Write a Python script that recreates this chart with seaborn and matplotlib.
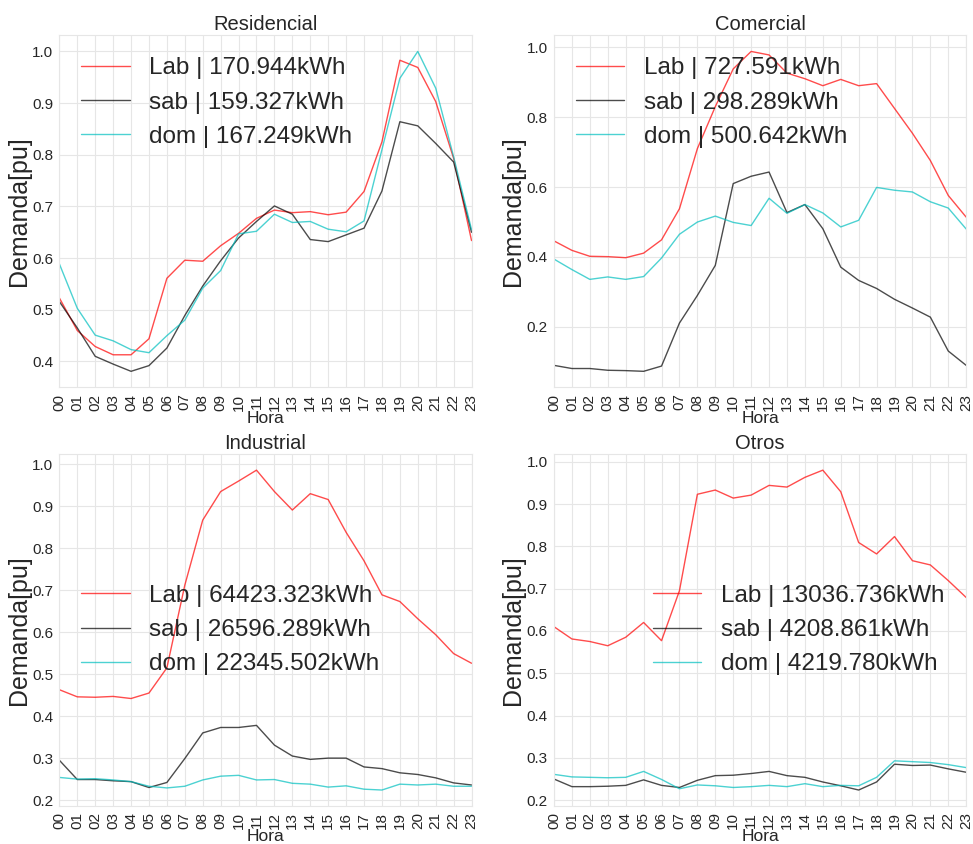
import numpy as np
import pandas as pd
import matplotlib
matplotlib.use("Agg")
import matplotlib.pyplot as plt
import seaborn as sns

horas = [f"{h:02d}" for h in range(24)]
dias = ["Lab", "sab", "dom"]
categorias = ["Residencial", "Comercial", "Industrial", "Otros"]

res_lab = [0.523, 0.460, 0.429, 0.413, 0.413, 0.444, 0.561, 0.596, 0.594, 0.624, 0.648, 0.677,
           0.693, 0.688, 0.690, 0.684, 0.689, 0.729, 0.825, 0.983, 0.969, 0.903, 0.793, 0.634]
res_sab = [0.516, 0.465, 0.410, 0.395, 0.381, 0.392, 0.426, 0.489, 0.546, 0.595, 0.639, 0.671,
           0.701, 0.685, 0.636, 0.632, 0.645, 0.658, 0.730, 0.864, 0.856, 0.822, 0.786, 0.650]
res_dom = [0.589, 0.503, 0.451, 0.440, 0.423, 0.417, 0.450, 0.480, 0.542, 0.576, 0.647, 0.652,
           0.685, 0.669, 0.671, 0.656, 0.651, 0.672, 0.810, 0.948, 1.000, 0.929, 0.796, 0.655]

com_lab = [0.446, 0.419, 0.402, 0.401, 0.398, 0.411, 0.449, 0.538, 0.710, 0.830, 0.938, 0.988,
           0.978, 0.926, 0.910, 0.890, 0.908, 0.890, 0.896, 0.825, 0.754, 0.676, 0.576, 0.514]
com_sab = [0.090, 0.081, 0.081, 0.076, 0.075, 0.073, 0.088, 0.211, 0.290, 0.376, 0.610, 0.631,
           0.643, 0.527, 0.550, 0.481, 0.371, 0.333, 0.310, 0.279, 0.254, 0.228, 0.131, 0.090]
com_dom = [0.394, 0.364, 0.336, 0.343, 0.336, 0.344, 0.397, 0.465, 0.500, 0.517, 0.499, 0.490,
           0.568, 0.525, 0.550, 0.526, 0.486, 0.505, 0.599, 0.591, 0.586, 0.558, 0.540, 0.480]

ind_lab = [0.463, 0.446, 0.445, 0.447, 0.442, 0.455, 0.515, 0.712, 0.867, 0.935, 0.960, 0.986,
           0.935, 0.891, 0.930, 0.916, 0.838, 0.770, 0.689, 0.673, 0.632, 0.594, 0.549, 0.526]
ind_sab = [0.295, 0.249, 0.249, 0.246, 0.244, 0.230, 0.242, 0.299, 0.360, 0.373, 0.373, 0.378,
           0.331, 0.305, 0.297, 0.300, 0.300, 0.279, 0.275, 0.265, 0.261, 0.253, 0.241, 0.236]
ind_dom = [0.254, 0.250, 0.251, 0.248, 0.244, 0.233, 0.229, 0.233, 0.248, 0.257, 0.259, 0.248,
           0.249, 0.240, 0.238, 0.231, 0.234, 0.226, 0.224, 0.238, 0.236, 0.238, 0.233, 0.233]

otr_lab = [0.610, 0.581, 0.575, 0.565, 0.585, 0.620, 0.577, 0.695, 0.923, 0.933, 0.914, 0.921,
           0.944, 0.940, 0.963, 0.980, 0.929, 0.809, 0.782, 0.823, 0.766, 0.756, 0.719, 0.679]
otr_sab = [0.250, 0.232, 0.232, 0.233, 0.235, 0.248, 0.235, 0.230, 0.247, 0.258, 0.259, 0.263,
           0.268, 0.258, 0.254, 0.243, 0.234, 0.224, 0.243, 0.285, 0.282, 0.283, 0.274, 0.266]
otr_dom = [0.261, 0.255, 0.254, 0.253, 0.254, 0.268, 0.249, 0.227, 0.236, 0.234, 0.230, 0.232,
           0.235, 0.232, 0.239, 0.232, 0.235, 0.234, 0.254, 0.293, 0.291, 0.289, 0.284, 0.277]

energia = {
    "Residencial": ["170.944", "159.327", "167.249"],
    "Comercial": ["727.591", "298.289", "500.642"],
    "Industrial": ["64423.323", "26596.289", "22345.502"],
    "Otros": ["13036.736", "4208.861", "4219.780"],
}
series = {
    "Residencial": [res_lab, res_sab, res_dom],
    "Comercial": [com_lab, com_sab, com_dom],
    "Industrial": [ind_lab, ind_sab, ind_dom],
    "Otros": [otr_lab, otr_sab, otr_dom],
}
legend_loc = {"Residencial": "upper left", "Comercial": "upper left",
              "Industrial": "center left", "Otros": "center right"}

colores = ["red", "black", "c"]

sns.set_style("whitegrid", {"grid.color": ".9", "axes.edgecolor": ".9"})
plt.rcParams["font.family"] = ["Liberation Sans", "DejaVu Sans"]
plt.rcParams["text.color"] = ".15"
plt.rcParams["axes.labelcolor"] = ".15"

fig, axes = plt.subplots(2, 2, figsize=(9.73, 8.44), dpi=100)
fig.subplots_adjust(left=0.061, right=0.993, top=0.958, bottom=0.045, wspace=0.2, hspace=0.19)

x = np.arange(24)
for ax, cat in zip(axes.flat, categorias):
    for vals, dia, col, kwh in zip(series[cat], dias, colores, energia[cat]):
        sns.lineplot(x=x, y=vals, ax=ax, color=col, alpha=0.7, linewidth=1.0,
                     label=f"{dia} | {kwh}kWh")
    ax.set_xlim(0, 23)
    ax.set_xticks(x)
    ax.set_xticklabels(horas, rotation=90)
    ax.tick_params(axis="both", labelsize=11, colors=".15", pad=1)
    ax.set_title(cat, fontsize=14.5, pad=4)
    ax.set_xlabel("Hora", fontsize=12.5, labelpad=0)
    ax.set_ylabel("Demanda[pu]", fontsize=18, labelpad=1)
    ax.legend(loc=legend_loc[cat], frameon=False, fontsize=17.5)

fig.savefig("out.png", dpi=100)
